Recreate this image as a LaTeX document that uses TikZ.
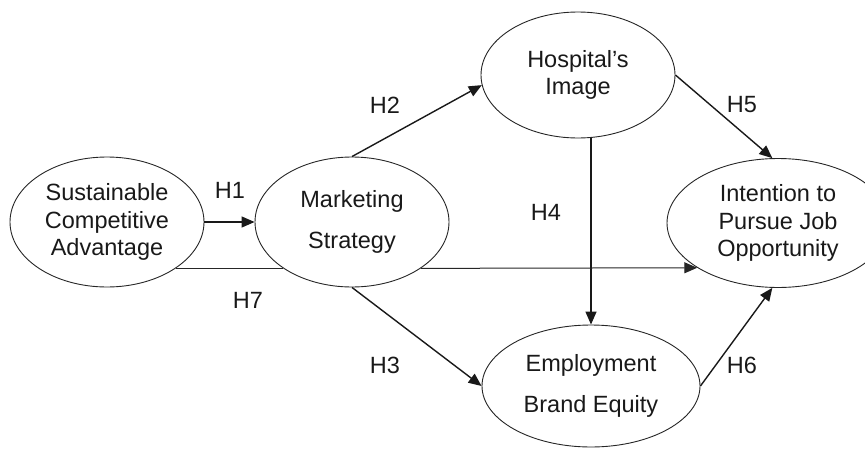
\documentclass[tikz,border=0pt]{standalone}
\usepackage{fontspec}
\setmainfont{Liberation Sans}
\usetikzlibrary{shapes.geometric,arrows.meta}
\begin{document}
\begin{tikzpicture}[x=1pt,y=-1pt,
  construct/.style={ellipse,draw=black!85,line width=0.9pt,fill=white,inner sep=0pt,align=center,
    font=\fontsize{23.5}{27.5}\selectfont,text=black!90},
  hyp/.style={draw=black!90,line width=1.4pt,-{Triangle[length=13pt,width=11pt]}},
  lbl/.style={font=\fontsize{23.5}{27}\selectfont,text=black!90,inner sep=0pt}]
\useasboundingbox (0,0) rectangle (865,450);
\clip (0,0) rectangle (865,450);
% constructs
\node[construct,minimum width=194pt,minimum height=130pt] (A) at (107,222) {Sustainable\\Competitive\\Advantage};
\node[construct,minimum width=194pt,minimum height=130pt] (B) at (352,222) {Marketing\\[13pt]Strategy};
\node[construct,minimum width=194pt,minimum height=126pt] (H) at (578,75) {Hospital's\\Image};
\node[construct,minimum width=218pt,minimum height=122pt] (E) at (591,386) {Employment\\[14pt]Brand Equity};
\node[construct,minimum width=222pt,minimum height=129pt] (I) at (778,223) {Intention to\\Pursue Job\\Opportunity};
% connectors
\draw[hyp] (A.east) -- (B.west);
\draw[hyp] (B.north) -- (H.186);
\draw[hyp] (B.south) -- (E.west);
\draw[hyp] (E.north |- H.south) -- (E.north);
\draw[hyp] (H.east) -- (I.95);
\draw[hyp] (E.east) -- (I.-95);
\draw[draw=black!85,line width=1pt] (A.-34) -- (B.214);
\draw[draw=black!85,line width=1pt,-{Triangle[length=13pt,width=11pt]}] (B.-34) -- (I.209);
% labels
\node[lbl] (l1) at (230,190) {H1};
\node[lbl] (l2) at (385,105) {H2};
\node[lbl] (l3) at (385,365) {H3};
\node[lbl] (l4) at (546,212) {H4};
\node[lbl] (l5) at (742,105) {H5};
\node[lbl] (l6) at (742,365) {H6};
\node[lbl] (l7) at (248,300) {H7};
\end{tikzpicture}
\end{document}
